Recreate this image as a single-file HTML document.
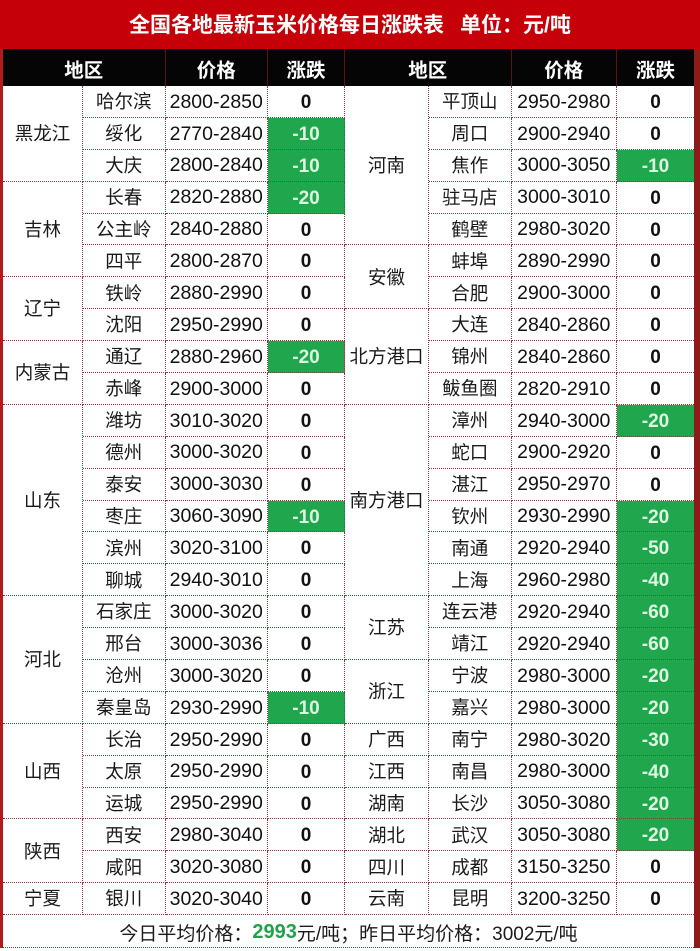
<!DOCTYPE html>
<html><head><meta charset="utf-8">
<style>
html,body{margin:0;padding:0;}
body{width:700px;height:951px;position:relative;background:#fff;overflow:hidden;font-family:"Liberation Sans","Noto Sans CJK SC",sans-serif;}
.title{position:absolute;left:0;top:0;width:700px;height:49px;background:#c50008;}
.title span{position:absolute;top:1px;line-height:49px;color:#fff;font-weight:bold;font-size:21px;font-family:"Liberation Sans","Noto Sans CJK SC",sans-serif;white-space:nowrap;}
.lb{position:absolute;left:0;top:49px;width:3px;height:899px;background:#b51a1a;}
.rb{position:absolute;left:694px;top:49px;width:6px;height:899px;background:#8e1a1a;}
.hd{position:absolute;top:49px;height:37px;padding-top:1px;background:#050505;color:#fff;font-weight:bold;font-size:19.5px;display:flex;align-items:center;justify-content:center;box-sizing:border-box;border-right:1px solid #5a1212;font-family:"Liberation Sans","Noto Sans CJK SC",sans-serif;}
.g{position:absolute;left:3px;top:86px;display:grid;grid-template-columns:80px 82.5px 102.5px 77px 84px 82.5px 105.5px 77px;grid-template-rows:repeat(26,31.9px);}
.g>div{display:flex;align-items:center;justify-content:center;border-right:1px dotted #8b3a3a;border-bottom:1px dotted #8b3a3a;box-sizing:border-box;line-height:1;white-space:nowrap;padding-top:2px;}
.a{grid-column:1}.b{grid-column:2}.p{grid-column:3}.d{grid-column:4}
.A{grid-column:5}.B{grid-column:6}.P{grid-column:7}.D{grid-column:8;border-right:none!important}
.a,.b,.A,.B{font-size:18.5px;color:#1a1a1a;font-family:"Liberation Sans","Noto Sans CJK SC",sans-serif;}
.p,.P{font-size:19.5px;color:#111;}
.d,.D{font-size:19px;font-weight:bold;color:#111;}
.s2{grid-row:span 2}.s3{grid-row:span 3}.s4{grid-row:span 4}.s5{grid-row:span 5}.s6{grid-row:span 6}
.g>div.gr{background:#20a64c;color:#dcf7e2;}
.ft{position:absolute;left:3px;top:916px;width:691px;height:32px;padding-top:2px;border-bottom:1px dotted #8b3a3a;box-sizing:border-box;display:flex;align-items:center;justify-content:center;font-size:19px;color:#1a1a1a;white-space:nowrap;font-family:"Liberation Sans","Noto Sans CJK SC",sans-serif;}
.ft b{color:#22a04c;font-size:20px;}
</style></head><body>
<div class="title"><span style="left:129px">全国各地最新玉米价格每日涨跌表</span><span style="left:460px">单位：元/吨</span></div>
<div class="lb"></div>
<div class="rb"></div>
<div class="hd" style="left:3px;width:162.5px">地区</div>
<div class="hd" style="left:165.5px;width:102.5px">价格</div>
<div class="hd" style="left:268px;width:77px">涨跌</div>
<div class="hd" style="left:345px;width:166.5px">地区</div>
<div class="hd" style="left:511.5px;width:105.5px">价格</div>
<div class="hd" style="left:617px;width:77px;border-right:none">涨跌</div>

<div class="g">
<div class="a s3">黑龙江</div><div class="b">哈尔滨</div><div class="p">2800-2850</div><div class="d">0</div>
<div class="A s5">河南</div><div class="B">平顶山</div><div class="P">2950-2980</div><div class="D">0</div>
<div class="b">绥化</div><div class="p">2770-2840</div><div class="d gr">-10</div>
<div class="B">周口</div><div class="P">2900-2940</div><div class="D">0</div>
<div class="b">大庆</div><div class="p">2800-2840</div><div class="d gr">-10</div>
<div class="B">焦作</div><div class="P">3000-3050</div><div class="D gr">-10</div>
<div class="a s3">吉林</div><div class="b">长春</div><div class="p">2820-2880</div><div class="d gr">-20</div>
<div class="B">驻马店</div><div class="P">3000-3010</div><div class="D">0</div>
<div class="b">公主岭</div><div class="p">2840-2880</div><div class="d">0</div>
<div class="B">鹤壁</div><div class="P">2980-3020</div><div class="D">0</div>
<div class="b">四平</div><div class="p">2800-2870</div><div class="d">0</div>
<div class="A s2">安徽</div><div class="B">蚌埠</div><div class="P">2890-2990</div><div class="D">0</div>
<div class="a s2">辽宁</div><div class="b">铁岭</div><div class="p">2880-2990</div><div class="d">0</div>
<div class="B">合肥</div><div class="P">2900-3000</div><div class="D">0</div>
<div class="b">沈阳</div><div class="p">2950-2990</div><div class="d">0</div>
<div class="A s3">北方港口</div><div class="B">大连</div><div class="P">2840-2860</div><div class="D">0</div>
<div class="a s2">内蒙古</div><div class="b">通辽</div><div class="p">2880-2960</div><div class="d gr">-20</div>
<div class="B">锦州</div><div class="P">2840-2860</div><div class="D">0</div>
<div class="b">赤峰</div><div class="p">2900-3000</div><div class="d">0</div>
<div class="B">鲅鱼圈</div><div class="P">2820-2910</div><div class="D">0</div>
<div class="a s6">山东</div><div class="b">潍坊</div><div class="p">3010-3020</div><div class="d">0</div>
<div class="A s6">南方港口</div><div class="B">漳州</div><div class="P">2940-3000</div><div class="D gr">-20</div>
<div class="b">德州</div><div class="p">3000-3020</div><div class="d">0</div>
<div class="B">蛇口</div><div class="P">2900-2920</div><div class="D">0</div>
<div class="b">泰安</div><div class="p">3000-3030</div><div class="d">0</div>
<div class="B">湛江</div><div class="P">2950-2970</div><div class="D">0</div>
<div class="b">枣庄</div><div class="p">3060-3090</div><div class="d gr">-10</div>
<div class="B">钦州</div><div class="P">2930-2990</div><div class="D gr">-20</div>
<div class="b">滨州</div><div class="p">3020-3100</div><div class="d">0</div>
<div class="B">南通</div><div class="P">2920-2940</div><div class="D gr">-50</div>
<div class="b">聊城</div><div class="p">2940-3010</div><div class="d">0</div>
<div class="B">上海</div><div class="P">2960-2980</div><div class="D gr">-40</div>
<div class="a s4">河北</div><div class="b">石家庄</div><div class="p">3000-3020</div><div class="d">0</div>
<div class="A s2">江苏</div><div class="B">连云港</div><div class="P">2920-2940</div><div class="D gr">-60</div>
<div class="b">邢台</div><div class="p">3000-3036</div><div class="d">0</div>
<div class="B">靖江</div><div class="P">2920-2940</div><div class="D gr">-60</div>
<div class="b">沧州</div><div class="p">3000-3020</div><div class="d">0</div>
<div class="A s2">浙江</div><div class="B">宁波</div><div class="P">2980-3000</div><div class="D gr">-20</div>
<div class="b">秦皇岛</div><div class="p">2930-2990</div><div class="d gr">-10</div>
<div class="B">嘉兴</div><div class="P">2980-3000</div><div class="D gr">-20</div>
<div class="a s3">山西</div><div class="b">长治</div><div class="p">2950-2990</div><div class="d">0</div>
<div class="A">广西</div><div class="B">南宁</div><div class="P">2980-3020</div><div class="D gr">-30</div>
<div class="b">太原</div><div class="p">2950-2990</div><div class="d">0</div>
<div class="A">江西</div><div class="B">南昌</div><div class="P">2980-3000</div><div class="D gr">-40</div>
<div class="b">运城</div><div class="p">2950-2990</div><div class="d">0</div>
<div class="A">湖南</div><div class="B">长沙</div><div class="P">3050-3080</div><div class="D gr">-20</div>
<div class="a s2">陕西</div><div class="b">西安</div><div class="p">2980-3040</div><div class="d">0</div>
<div class="A">湖北</div><div class="B">武汉</div><div class="P">3050-3080</div><div class="D gr">-20</div>
<div class="b">咸阳</div><div class="p">3020-3080</div><div class="d">0</div>
<div class="A">四川</div><div class="B">成都</div><div class="P">3150-3250</div><div class="D">0</div>
<div class="a">宁夏</div><div class="b">银川</div><div class="p">3020-3040</div><div class="d">0</div>
<div class="A">云南</div><div class="B">昆明</div><div class="P">3200-3250</div><div class="D">0</div>
</div>

<div class="ft">今日平均价格：<b>2993</b>元/吨；昨日平均价格：3002元/吨</div>
</body></html>
